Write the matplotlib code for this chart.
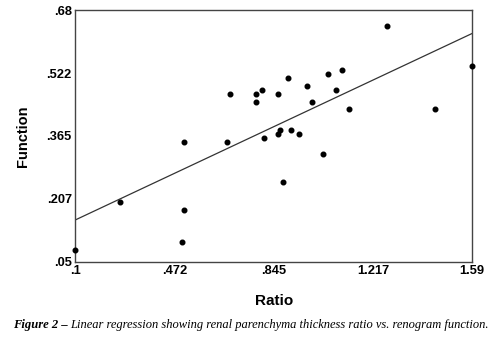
import matplotlib.pyplot as plt
import numpy as np

# dados (razão x função)
ratio = [0.100, 0.269, 0.499, 0.509, 0.509, 0.669, 0.681, 0.779, 0.779, 0.800,
         0.809, 0.860, 0.860, 0.870, 0.880, 0.900, 0.910, 0.940, 0.970, 0.990,
         1.030, 1.050, 1.080, 1.100, 1.129, 1.269, 1.450, 1.590]
function = [0.079, 0.199, 0.099, 0.179, 0.350, 0.350, 0.471, 0.471, 0.451, 0.480,
            0.360, 0.471, 0.370, 0.380, 0.249, 0.511, 0.380, 0.370, 0.491, 0.451,
            0.320, 0.521, 0.481, 0.531, 0.431, 0.641, 0.431, 0.541]

xticks = [0.1, 0.472, 0.845, 1.217, 1.59]
xlabels = ['.1', '.472', '.845', '1.217', '1.59']
yticks = [0.05, 0.207, 0.365, 0.522, 0.68]
ylabels = ['.05', '.207', '.365', '.522', '.68']

# reta de regressão
b, a = np.polyfit(ratio, function, 1)
xl = np.array([0.1, 1.59])

fig = plt.figure(figsize=(5, 3.45), dpi=100)
ax = fig.add_axes([0.1506, 0.2414, 0.794, 0.7296])
ax.scatter(ratio, function, s=11, color='black', zorder=3, clip_on=False)
ax.plot(xl, a + b * xl, color='#333333', lw=0.9)

ax.set_xlim(0.1, 1.59)
ax.set_ylim(0.05, 0.68)
ax.set_xticks(xticks)
ax.set_xticklabels(xlabels)
ax.set_yticks(yticks)
ax.set_yticklabels(ylabels)
ax.tick_params(length=0, pad=2.5, labelsize=9.3)
for lb in ax.get_xticklabels() + ax.get_yticklabels():
    lb.set_family('Liberation Sans'); lb.set_weight('bold')
for s in ax.spines.values():
    s.set_color('#444444'); s.set_linewidth(1.0)

ax.set_xlabel('Ratio', family='Liberation Sans', weight='bold', fontsize=11, labelpad=12)
ax.set_ylabel('Function', family='Liberation Sans', weight='bold', fontsize=10.5, labelpad=12)

# legenda da figura
t1 = fig.text(0.026, 0.057, 'Figure 2 \u2013', family='Liberation Serif', style='italic',
              weight='bold', fontsize=9.1, va='center')
fig.canvas.draw()
bb = t1.get_window_extent().transformed(fig.transFigure.inverted())
fig.text(bb.x1 + 0.005, 0.057, 'Linear regression showing renal parenchyma thickness ratio vs. renogram function.',
         family='Liberation Serif', style='italic', fontsize=9.0, va='center')

fig.savefig('out.png', dpi=100)
